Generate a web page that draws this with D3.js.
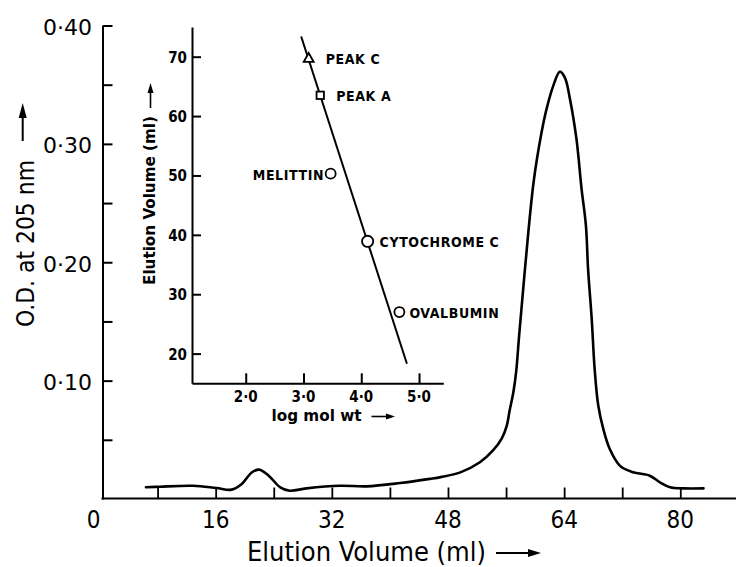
<!DOCTYPE html>
<html>
<head>
<meta charset="utf-8">
<script src="https://cdn.jsdelivr.net/npm/d3@7"></script>
<style>
  html, body { margin: 0; padding: 0; background: #fff; }
  svg { display: block; }
</style>
</head>
<body>
<svg id="chart" width="736" height="567"></svg>
<script>
// ---------------- DATA ----------------
// Main chromatogram: elution volume (ml) vs optical density at 205 nm
const elutionVolume = [6.4, 8.3, 12.9, 16.1, 18.2, 19.6, 21.0, 22.0, 23.3, 24.9, 26.2, 28.5, 33.1, 36.8,
  41.4, 45.5, 47.0, 49.7, 52.4, 54.2, 55.4, 56.1, 56.5, 57.0, 57.4, 57.8, 58.6, 59.8, 60.9, 61.6, 62.5, 63.4,
  64.1, 64.8, 65.7, 66.4, 67.0, 67.3, 67.8, 68.2, 68.7, 69.4, 70.3, 71.7, 73.5, 75.8, 77.2, 78.6, 80.4, 83.2];
const opticalDensity = [0.0099, 0.0104, 0.0112, 0.0093, 0.0079, 0.0127, 0.0226, 0.0248, 0.0197, 0.0099, 0.0070, 0.0090, 0.0112, 0.0107,
  0.0135, 0.0170, 0.0185, 0.0225, 0.0310, 0.0410, 0.051, 0.062, 0.075, 0.090, 0.108, 0.138, 0.194, 0.268, 0.310, 0.330, 0.349, 0.361,
  0.356, 0.338, 0.304, 0.262, 0.231, 0.194, 0.152, 0.110, 0.079, 0.059, 0.042, 0.028, 0.0226, 0.0197, 0.0141, 0.0099, 0.009, 0.009];

const odTicks = [0.05, 0.10, 0.15, 0.20, 0.25, 0.30, 0.35, 0.40];
const odTickLabels = [0.10, 0.20, 0.30, 0.40];
const volumeTicks = [8, 16, 24, 32, 40, 48, 56, 64, 72, 80];
const volumeTickLabels = [16, 32, 48, 64, 80];

// Inset: calibration of elution volume vs log molecular weight
const standardNames = ["PEAK C", "PEAK A", "MELITTIN", "CYTOCHROME C", "OVALBUMIN"];
const standardLogMw = [3.09, 3.29, 3.47, 4.11, 4.66];
const standardElution = [69.7, 63.5, 50.3, 38.9, 27.0];
const standardMarker = ["triangle", "square", "circle", "circle", "circle"];
const fitLogMw = [2.96, 4.79];
const fitElution = [73.4, 18.3];
const insetYTicks = [20, 30, 40, 50, 60, 70];
const insetXTicks = [2, 3, 4, 5];

// ---------------- DRAWING ----------------
const svg = d3.select("#chart");
const dot = "\u00B7";
const fmt = (v, d) => v.toFixed(d).replace(".", dot);
const condensed = "'DejaVu Sans Condensed', 'Liberation Sans Narrow', 'DejaVu Sans', sans-serif";
const plain = "'DejaVu Sans', sans-serif";

svg.append("rect").attr("width", 736).attr("height", 567).attr("fill", "#fff");

// main scales
const x = d3.scaleLinear().domain([0, 80]).range([99.5, 680.3]);
const y = d3.scaleLinear().domain([0, 0.40]).range([499, 25.5]);
const axisX0 = 102.5;   // drawn position of the OD axis
const axisY0 = 498.5;   // drawn position of the volume axis

// y axis (ticks pointing inwards)
const gy = svg.append("g").attr("transform", `translate(${axisX0},0)`)
  .call(d3.axisRight(y).tickValues(odTicks).tickSize(10).tickSizeOuter(0).tickFormat(""));
gy.selectAll("path, line").attr("stroke", "#000").attr("stroke-width", 2);

svg.append("g").selectAll("text").data(odTickLabels).join("text")
  .attr("x", 92).attr("y", d => y(d) + 2)
  .attr("text-anchor", "end").attr("dominant-baseline", "central")
  .attr("font-family", plain).attr("font-size", 22)
  .text(d => fmt(d, 2));

// x axis (ticks pointing upwards)
const gx = svg.append("g").attr("transform", `translate(0,${axisY0})`)
  .call(d3.axisTop(x).tickValues(volumeTicks).tickSize(11).tickSizeOuter(0).tickFormat(""));
gx.select(".domain").remove();
gx.selectAll("line").attr("stroke", "#000").attr("stroke-width", 1.8);
svg.append("line").attr("x1", axisX0 - 1).attr("x2", 736).attr("y1", axisY0).attr("y2", axisY0)
  .attr("stroke", "#000").attr("stroke-width", 2);

svg.append("g").selectAll("text").data(volumeTickLabels).join("text")
  .attr("x", d => x(d)).attr("y", 520)
  .attr("text-anchor", "middle").attr("dominant-baseline", "central")
  .attr("font-family", condensed).attr("font-size", 24)
  .text(d => d);
svg.append("text").attr("x", 93.7).attr("y", 520)
  .attr("text-anchor", "middle").attr("dominant-baseline", "central")
  .attr("font-family", condensed).attr("font-size", 24).text("0");

// axis titles
svg.append("text")
  .attr("transform", "translate(33.5,327) rotate(-90)")
  .attr("font-family", condensed).attr("font-size", 25)
  .attr("textLength", 167).attr("lengthAdjust", "spacingAndGlyphs")
  .text("O.D. at 205 nm");
svg.append("text")
  .attr("x", 247).attr("y", 561)
  .attr("font-family", condensed).attr("font-size", 26)
  .attr("textLength", 239).attr("lengthAdjust", "spacingAndGlyphs")
  .text("Elution Volume (ml)");

function arrow(x1, y1, x2, y2, head, half, w) {
  const ang = Math.atan2(y2 - y1, x2 - x1);
  const bx = x2 - head * Math.cos(ang), by = y2 - head * Math.sin(ang);
  svg.append("line").attr("x1", x1).attr("y1", y1).attr("x2", bx).attr("y2", by)
    .attr("stroke", "#000").attr("stroke-width", w);
  const px = -Math.sin(ang) * half, py = Math.cos(ang) * half;
  svg.append("path")
    .attr("d", `M${x2},${y2}L${bx + px},${by + py}L${bx - px},${by - py}Z`)
    .attr("fill", "#000");
}
arrow(22.7, 141, 22.7, 103, 15, 4, 2);
arrow(496, 553, 541, 553, 13, 4, 2);

// curve
const pts = elutionVolume.map((v, i) => [v, opticalDensity[i]]);
svg.append("path").datum(pts)
  .attr("d", d3.line().x(d => x(d[0])).y(d => y(d[1])).curve(d3.curveCatmullRom.alpha(0.5)))
  .attr("fill", "none").attr("stroke", "#000").attr("stroke-width", 2.6)
  .attr("stroke-linejoin", "round").attr("stroke-linecap", "round");

// ---------------- INSET ----------------
const xi = d3.scaleLinear().domain([1.07, 5.42]).range([192, 443.3]);
const yi = d3.scaleLinear().domain([15, 75]).range([383.3, 27]);

const giy = svg.append("g").attr("transform", `translate(${xi(1.07)},0)`)
  .call(d3.axisRight(yi).tickValues(insetYTicks).tickSize(9).tickSizeOuter(0).tickFormat(""));
giy.selectAll("path, line").attr("stroke", "#000").attr("stroke-width", 2);
const gix = svg.append("g").attr("transform", `translate(0,${yi(15)})`)
  .call(d3.axisTop(xi).tickValues(insetXTicks).tickSize(10).tickSizeOuter(0).tickFormat(""));
gix.selectAll("path, line").attr("stroke", "#000").attr("stroke-width", 2);

svg.append("g").selectAll("text").data(insetYTicks).join("text")
  .attr("x", 187).attr("y", d => yi(d) + 1)
  .attr("text-anchor", "end").attr("dominant-baseline", "central")
  .attr("font-family", condensed).attr("font-weight", "bold").attr("font-size", 15)
  .text(d => d);
svg.append("g").selectAll("text").data(insetXTicks).join("text")
  .attr("x", d => xi(d)).attr("y", 397)
  .attr("text-anchor", "middle").attr("dominant-baseline", "central")
  .attr("font-family", condensed).attr("font-weight", "bold").attr("font-size", 15)
  .text(d => fmt(d, 1));

svg.append("text")
  .attr("transform", "translate(155,285) rotate(-90)")
  .attr("font-family", condensed).attr("font-weight", "bold").attr("font-size", 15)
  .attr("textLength", 169).attr("lengthAdjust", "spacingAndGlyphs")
  .text("Elution Volume (ml)");
arrow(150.5, 108, 150.5, 83, 10, 3, 1.6);
svg.append("text")
  .attr("x", 271.5).attr("y", 421)
  .attr("font-family", condensed).attr("font-weight", "bold").attr("font-size", 15)
  .attr("textLength", 90).attr("lengthAdjust", "spacingAndGlyphs")
  .text("log mol wt");
arrow(371.5, 416.5, 395, 416.5, 9, 3, 1.6);

// fitted line
svg.append("line")
  .attr("x1", xi(fitLogMw[0])).attr("y1", yi(fitElution[0]))
  .attr("x2", xi(fitLogMw[1])).attr("y2", yi(fitElution[1]))
  .attr("stroke", "#000").attr("stroke-width", 2);

// markers
const labelDx = [17, 16, -6.5, 12, 10];
const labelAnchor = ["start", "start", "end", "start", "start"];
standardNames.forEach((name, i) => {
  const cx = xi(standardLogMw[i]), cy = yi(standardElution[i]);
  const shape = standardMarker[i];
  if (shape === "triangle") {
    svg.append("path").attr("d", `M${cx},${cy - 5.5}L${cx + 5},${cy + 3.5}L${cx - 5},${cy + 3.5}Z`)
      .attr("fill", "#fff").attr("stroke", "#000").attr("stroke-width", 1.8);
  } else if (shape === "square") {
    svg.append("rect").attr("x", cx - 3.7).attr("y", cy - 3.7).attr("width", 7.4).attr("height", 7.4)
      .attr("fill", "#fff").attr("stroke", "#000").attr("stroke-width", 1.8);
  } else {
    svg.append("circle").attr("cx", cx).attr("cy", cy).attr("r", name === "CYTOCHROME C" ? 5.6 : 5)
      .attr("fill", "#fff").attr("stroke", "#000").attr("stroke-width", 1.8);
  }
  svg.append("text")
    .attr("x", cx + labelDx[i]).attr("y", cy + 1)
    .attr("text-anchor", labelAnchor[i]).attr("dominant-baseline", "central")
    .attr("font-family", condensed).attr("font-weight", "bold").attr("font-size", 14)
    .attr("letter-spacing", 0.6)
    .text(name);
});
</script>
</body>
</html>
